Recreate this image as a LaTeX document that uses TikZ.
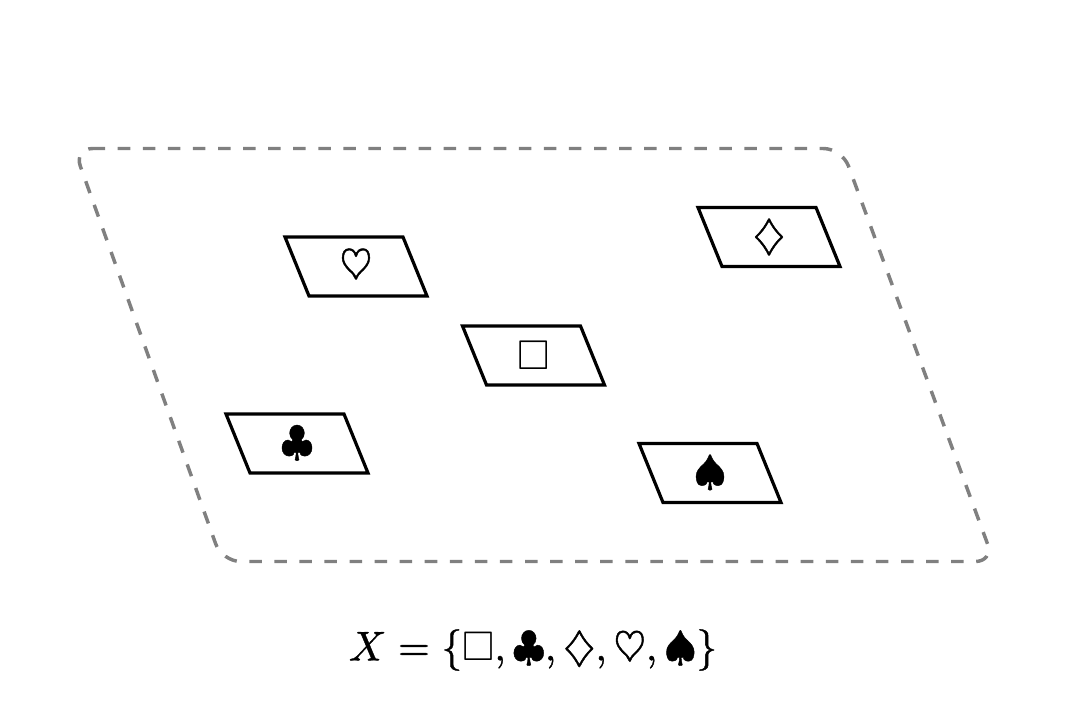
\documentclass[tikz,border=0pt]{standalone}
\usepackage{amssymb}
\newcommand{\heavy}[1]{\special{pdf:code 2 Tr 0.1 w 0 j 10 M}#1\special{pdf:code 0 Tr}}
\newcommand{\plainsq}{\special{pdf:code 0 Tr}\square\special{pdf:code 2 Tr}}
\tikzset{
  x=0.75pt,y=-0.75pt,
  card/.style={draw=black,line width=2.4pt,line join=miter},
  outer/.style={draw=gray,line width=2.6pt,dash pattern=on 9.4pt off 9.4pt,rounded corners=14pt},
  suit/.style={inner sep=0pt},
  formula/.style={inner sep=0pt}
}
\newcommand{\cardat}[3]{%
  \node[suit] (#1) at (#2) {\scalebox{3.12}{\heavy{$#3$}}};
  \draw[card] ([shift={(-71,-29.5)}]#1.center) -- ([shift={(47,-29.5)}]#1.center) -- ([shift={(71,29.5)}]#1.center) -- ([shift={(-47,29.5)}]#1.center) -- cycle;
}
\begin{document}
\begin{tikzpicture}
\useasboundingbox (0,0) rectangle (1066,711);
\coordinate (o1) at (74,148.5);
\coordinate (o2) at (842,148.5);
\coordinate (o3) at (994,561.5);
\coordinate (o4) at (222,561.5);
\draw[outer] (o1) -- (o2) -- (o3) -- (o4) -- cycle;
\cardat{h}{356,266.5}{\heartsuit}
\cardat{d}{769,237}{\diamondsuit}
\cardat{s}{533.5,355.5}{\plainsq}
\cardat{c}{297,443.5}{\clubsuit}
\cardat{p}{710,473}{\spadesuit}
\node[formula] (f) at (533,650) {\scalebox{3.1}{\heavy{$X=\{\plainsq,\clubsuit,\diamondsuit,\heartsuit,\spadesuit\}$}}};
\end{tikzpicture}
\end{document}
